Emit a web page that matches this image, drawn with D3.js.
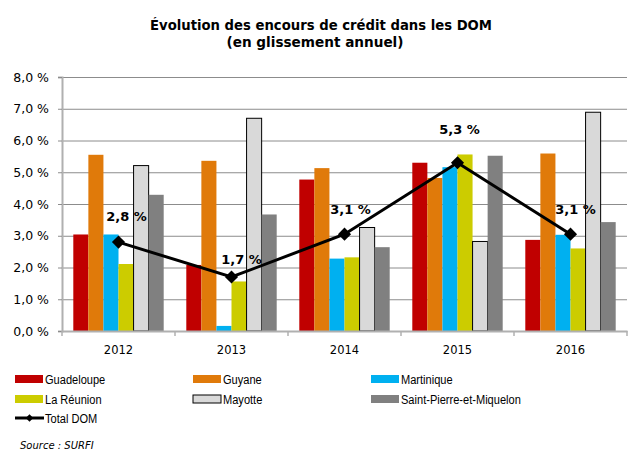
<!DOCTYPE html>
<html>
<head>
<meta charset="utf-8">
<script src="https://cdn.jsdelivr.net/npm/d3@7"></script>
<style>
  body { margin: 0; background: #fff; }
  svg { display: block; }
</style>
</head>
<body>
<script>
const years = ["2012", "2013", "2014", "2015", "2016"]
const regions = ["Guadeloupe", "Guyane", "Martinique", "La Réunion", "Mayotte", "Saint-Pierre-et-Miquelon"]
const guadeloupe = [3.04, 2.08, 4.77, 5.30, 2.87]
const guyane = [5.55, 5.36, 5.13, 4.82, 5.59]
const martinique = [3.04, 0.16, 2.28, 5.16, 3.03]
const reunion = [2.11, 1.56, 2.32, 5.56, 2.60]
const mayotte = [5.21, 6.70, 3.26, 2.82, 6.89]
const spm = [4.29, 3.67, 2.64, 5.52, 3.43]
const totalDom = [2.8, 1.7, 3.05, 5.3, 3.05]
const totalLabels = ["2,8 %", "1,7 %", "3,1 %", "5,3 %", "3,1 %"]
const yTicks = [0, 1, 2, 3, 4, 5, 6, 7, 8]

const width = 639
const height = 452
const margin = ({top: 77, right: 12, bottom: 121, left: 62})

const seriesValues = [guadeloupe, guyane, martinique, reunion, mayotte, spm]
const colors = ["#c00000", "#e07a0a", "#00b0f0", "#cccc00", "#d9d9d9", "#808080"]
const color = d3.scaleOrdinal().domain(regions).range(colors)

// label nudges, as placed in the original
const labelShift = [[8, -26], [10, -18], [6, -25], [2, -33], [5, -25]]

const x0 = d3.scaleBand()
    .domain(years)
    .range([margin.left, width - margin.right])
    .paddingInner(0.2)
    .paddingOuter(0.1)
const x1 = d3.scaleBand()
    .domain(regions)
    .range([0, x0.bandwidth()])
const y = d3.scaleLinear()
    .domain([0, 8])
    .range([height - margin.bottom, margin.top])

const svg = d3.select("body").append("svg")
    .attr("viewBox", [0, 0, width, height])
    .attr("width", width)
    .attr("height", height)

// title
svg.append("text")
    .attr("x", 321).attr("y", 30)
    .attr("text-anchor", "middle")
    .attr("font-family", "DejaVu Sans")
    .attr("font-weight", "bold")
    .attr("font-size", 14.5)
    .attr("textLength", 342)
    .attr("lengthAdjust", "spacingAndGlyphs")
    .text("Évolution des encours de crédit dans les DOM")
svg.append("text")
    .attr("x", 315).attr("y", 47)
    .attr("text-anchor", "middle")
    .attr("font-family", "DejaVu Sans")
    .attr("font-weight", "bold")
    .attr("font-size", 14.5)
    .attr("textLength", 177)
    .attr("lengthAdjust", "spacingAndGlyphs")
    .text("(en glissement annuel)")

// grid + y axis
const yAxis = g => g
    .attr("transform", `translate(${margin.left},0)`)
    .call(d3.axisLeft(y).tickValues(yTicks).tickSize(4)
        .tickFormat(d => d.toFixed(1).replace(".", ",") + " %"))
    .call(g => g.select(".domain").attr("stroke", "#b0b0b0").attr("stroke-width", 2))
    .call(g => g.selectAll(".tick line").attr("stroke", "#8c8c8c"))
    .call(g => g.selectAll(".tick text")
        .attr("x", -13)
        .attr("font-family", "DejaVu Sans")
        .attr("font-size", 12.5)
        .attr("fill", "#000"))

svg.append("g")
    .selectAll("line")
    .data(yTicks.filter(d => d > 0))
    .join("line")
      .attr("x1", margin.left)
      .attr("x2", width - margin.right)
      .attr("y1", d => y(d) + 0.5)
      .attr("y2", d => y(d) + 0.5)
      .attr("stroke", "#8c8c8c")
      .attr("stroke-width", 1)

svg.append("g").call(yAxis)

// bars
const bars = years.map((yr, i) => regions.map((r, j) => ({year: yr, region: r, value: seriesValues[j][i]})))

svg.append("g")
  .selectAll("g")
  .data(bars)
  .join("g")
    .attr("transform", d => `translate(${x0(d[0].year)},0)`)
  .selectAll("rect")
  .data(d => d)
  .join("rect")
    .attr("x", d => x1(d.region))
    .attr("y", d => y(d.value))
    .attr("width", x1.bandwidth())
    .attr("height", d => y(0) - y(d.value))
    .attr("fill", d => color(d.region))
    .attr("stroke", d => d.region === "Mayotte" ? "#000" : "none")
    .attr("stroke-width", 1)

// x axis
const xAxis = g => g
    .attr("transform", `translate(0,${y(0)})`)
    .call(d3.axisBottom(x0).tickSize(0).tickSizeOuter(0))
    .call(g => g.select(".domain").attr("stroke", "#b0b0b0").attr("stroke-width", 2))
    .call(g => g.selectAll(".tick text")
        .attr("dy", 0)
        .attr("y", 23)
        .attr("font-family", "DejaVu Sans")
        .attr("font-size", 11.5)
        .attr("fill", "#000"))

svg.append("g").call(xAxis)

const step = x0.step()
svg.append("g")
  .selectAll("line")
  .data(d3.range(years.length + 1))
  .join("line")
    .attr("x1", i => margin.left + i * step)
    .attr("x2", i => margin.left + i * step)
    .attr("y1", y(0))
    .attr("y2", y(0) + 5)
    .attr("stroke", "#b0b0b0")
    .attr("stroke-width", 1.5)

// Total DOM line
const line = d3.line()
    .x((d, i) => x0(years[i]) + x0.bandwidth() / 2)
    .y(d => y(d))

svg.append("path")
    .datum(totalDom)
    .attr("fill", "none")
    .attr("stroke", "#000")
    .attr("stroke-width", 3)
    .attr("d", line)

const diamond = d3.symbol().type(d3.symbolDiamond2).size(110)

svg.append("g")
  .selectAll("path")
  .data(totalDom)
  .join("path")
    .attr("transform", (d, i) => `translate(${x0(years[i]) + x0.bandwidth() / 2},${y(d)})`)
    .attr("d", diamond)
    .attr("fill", "#000")

svg.append("g")
  .selectAll("text")
  .data(totalDom)
  .join("text")
    .attr("x", (d, i) => x0(years[i]) + x0.bandwidth() / 2 + labelShift[i][0])
    .attr("y", (d, i) => y(d) + labelShift[i][1])
    .attr("dy", "0.35em")
    .attr("text-anchor", "middle")
    .attr("font-family", "DejaVu Sans")
    .attr("font-weight", "bold")
    .attr("font-size", 13)
    .text((d, i) => totalLabels[i])

// legend
const legendItems = regions.concat(["Total DOM"])
const legend = svg.append("g")
  .selectAll("g")
  .data(legendItems)
  .join("g")
    .attr("transform", (d, i) => `translate(${[15, 193, 371][i % 3]},${[379, 399, 418][Math.floor(i / 3)]})`)

legend.filter(d => d !== "Total DOM").append("rect")
    .attr("x", 0).attr("y", -4)
    .attr("width", 28).attr("height", 8)
    .attr("fill", d => color(d))
    .attr("stroke", d => d === "Mayotte" ? "#000" : "none")

legend.filter(d => d === "Total DOM").append("line")
    .attr("x1", 0).attr("x2", 29)
    .attr("stroke", "#000").attr("stroke-width", 3)
legend.filter(d => d === "Total DOM").append("path")
    .attr("transform", "translate(14.5,0)")
    .attr("d", d3.symbol().type(d3.symbolDiamond2).size(35))
    .attr("fill", "#000")

// narrow face: squeeze Liberation Sans horizontally
legend.append("text")
    .attr("transform", "translate(30,0) scale(0.82,1)")
    .attr("dy", "0.35em")
    .attr("font-family", "Liberation Sans")
    .attr("font-size", 13.5)
    .text(d => d)

svg.append("text")
    .attr("x", 20).attr("y", 449)
    .attr("font-family", "DejaVu Sans")
    .attr("font-style", "italic")
    .attr("font-size", 10)
    .text("Source : SURFI")
</script>
</body>
</html>
